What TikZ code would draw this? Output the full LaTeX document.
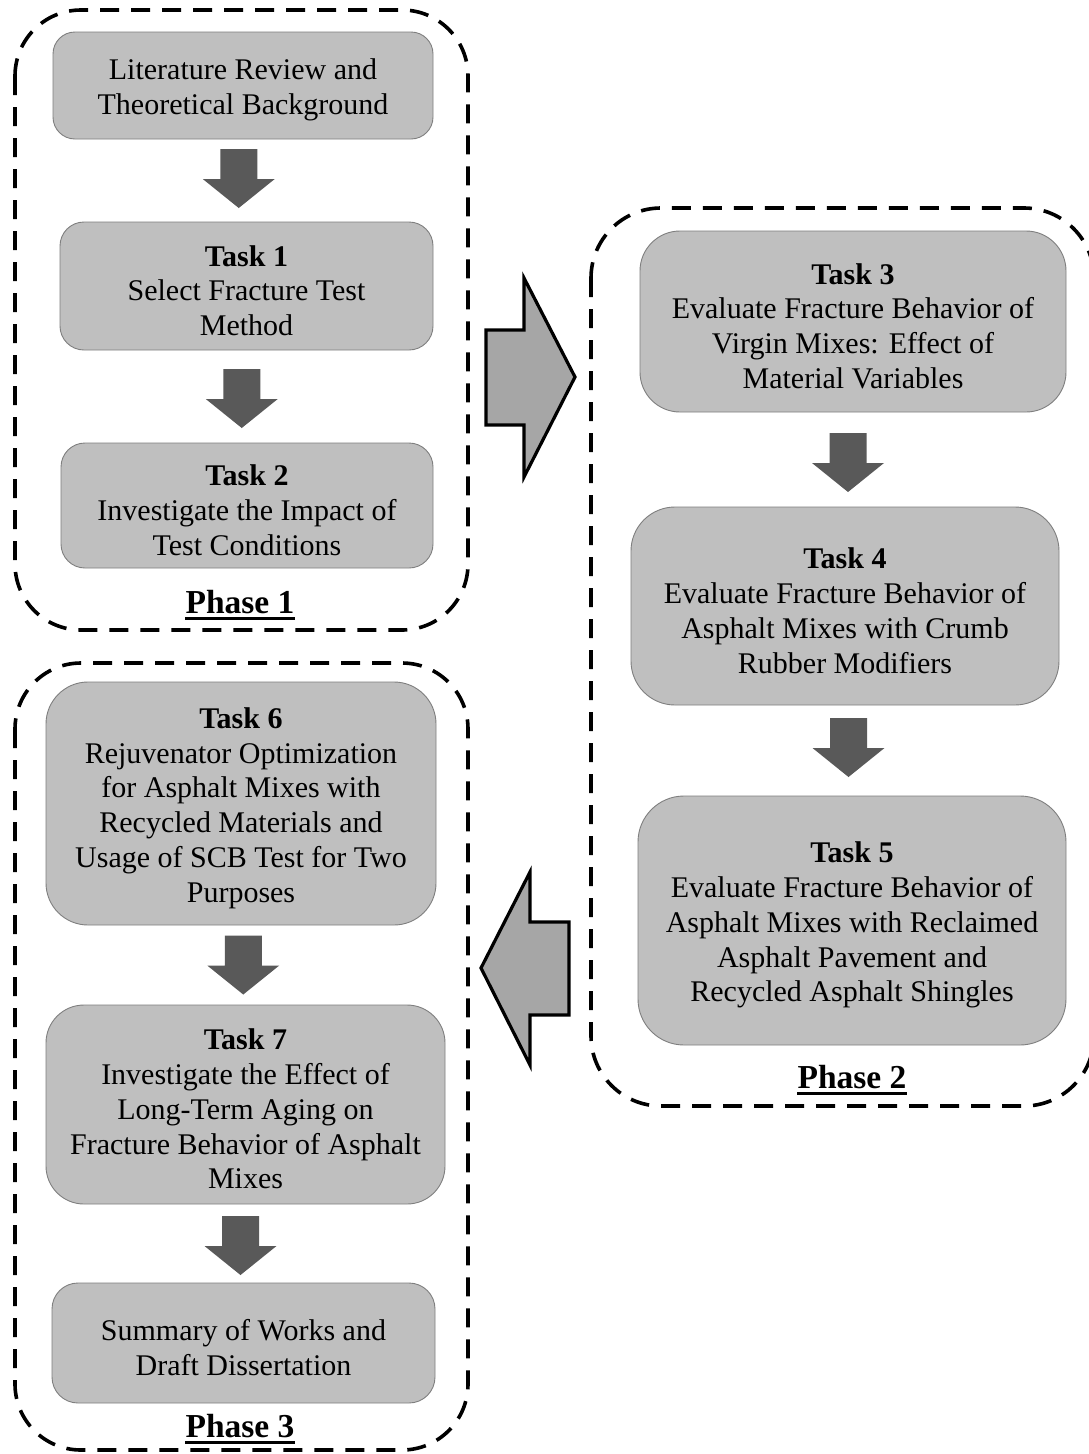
\documentclass[tikz,border=0pt]{standalone}
\usepackage{fontspec}
\setmainfont{Liberation Serif}
\usetikzlibrary{calc}
\definecolor{boxfill}{HTML}{BFBFBF}
\definecolor{boxline}{HTML}{7F7F7F}
\definecolor{darr}{HTML}{595959}
\definecolor{bigarr}{HTML}{A6A6A6}
\newcommand\firststrut{\rule{0pt}{30pt}}
\tikzset{
  taskbox/.style={draw=boxline, line width=0.9pt, fill=boxfill, align=center,
    font=\fontsize{30}{34.8}\selectfont, inner sep=0pt},
  phasebox/.style={draw=black, line width=3.6pt, dash pattern=on 19pt off 12pt},
  phaselbl/.style={font=\fontsize{33.5}{38}\selectfont\bfseries, inner sep=0pt},
  pics/downarr/.style={code={
    \fill[darr] (-18.5,-29.5) -- (18.5,-29.5) -- (18.5,0.5) -- (36,0.5) -- (0,29.5)
      -- (-36,0.5) -- (-18.5,0.5) -- cycle;}},
  bigarrow/.style={fill=bigarr, draw=black, line width=3.2pt, line join=miter}
}
\begin{document}
\begin{tikzpicture}[x=1pt,y=-1pt]
\useasboundingbox (0,0) rectangle (1088,1454);
\fill[white] (0,0) rectangle (1088,1454);

% phase containers
\draw[phasebox, rounded corners=66pt] (15,10) rectangle (468,630);
\draw[phasebox, rounded corners=70pt] (591,208) rectangle (1094,1106);
\draw[phasebox, rounded corners=66pt] (15,663) rectangle (468,1450);

% phase 1
\node[taskbox, rounded corners=22pt, minimum width=380, minimum height=107] (lit) at (243,85.5)
  {\firststrut Literature Review and\\Theoretical Background};
\node[taskbox, rounded corners=24pt, minimum width=373, minimum height=128] (t1) at (246.5,286)
  {\firststrut\textbf{Task 1}\\Select Fracture Test\\Method};
\node[taskbox, rounded corners=24pt, minimum width=372, minimum height=125] (t2) at (247,505.5)
  {\firststrut\textbf{Task 2}\\Investigate the Impact of\\Test Conditions};
\node[phaselbl] (p1) at (240,602) {Phase 1};
\draw[line width=2.6pt] ([yshift=-5pt]p1.base west) -- ([yshift=-5pt]p1.base east);

% phase 2
\node[taskbox, rounded corners=40pt, minimum width=426, minimum height=181] (t3) at (853,321.5)
  {\firststrut\textbf{Task 3}\\Evaluate Fracture Behavior of\\Virgin Mixes: Effect of\\Material Variables};
\node[taskbox, rounded corners=44pt, minimum width=428, minimum height=198] (t4) at (845,606)
  {\firststrut\textbf{Task 4}\\Evaluate Fracture Behavior of\\Asphalt Mixes with Crumb\\Rubber Modifiers};
\node[taskbox, rounded corners=46pt, minimum width=428, minimum height=249] (t5) at (852,920.5)
  {\firststrut\textbf{Task 5}\\Evaluate Fracture Behavior of\\Asphalt Mixes with Reclaimed\\Asphalt Pavement and\\Recycled Asphalt Shingles};
\node[phaselbl] (p2) at (852,1077) {Phase 2};
\draw[line width=2.6pt] ([yshift=-5pt]p2.base west) -- ([yshift=-5pt]p2.base east);

% phase 3
\node[taskbox, rounded corners=42pt, minimum width=390, minimum height=243] (t6) at (241,803.5)
  {\firststrut\textbf{Task 6}\\Rejuvenator Optimization\\for Asphalt Mixes with\\Recycled Materials and\\Usage of SCB Test for Two\\Purposes};
\node[taskbox, rounded corners=38pt, minimum width=399, minimum height=199] (t7) at (245.5,1104.5)
  {\firststrut\textbf{Task 7}\\Investigate the Effect of\\Long-Term Aging on\\Fracture Behavior of Asphalt\\Mixes};
\node[taskbox, rounded corners=26pt, minimum width=383, minimum height=120] (sum) at (243.5,1343)
  {\firststrut Summary of Works and\\Draft Dissertation};
\node[phaselbl] (p3) at (240,1426) {Phase 3};
\draw[line width=2.6pt] ([yshift=-5pt]p3.base west) -- ([yshift=-5pt]p3.base east);

% down arrows between tasks
\pic at ($($(lit.south)!0.5!(t1.north)$)+(-6,-2)$) {downarr};
\pic at ($($(t1.south)!0.5!(t2.north)$)+(-5,2)$) {downarr};
\pic at ($($(t3.south)!0.5!(t4.north)$)+(-1,3)$) {downarr};
\pic at ($($(t4.south)!0.5!(t5.north)$)+(0,-3)$) {downarr};
\pic at ($($(t6.south)!0.5!(t7.north)$)+(0,0)$) {downarr};
\pic at ($($(t7.south)!0.5!(sum.north)$)+(-4,2)$) {downarr};

% big phase arrows
\coordinate (r1) at (575,377);
\coordinate (l1) at (481,968);
\draw[bigarrow] (r1) -- (524,278) -- (524,330) -- (486,330) -- (486,425) -- (524,425) -- (524,477) -- cycle;
\draw[bigarrow] (l1) -- (530,872) -- (530,922) -- (569,922) -- (569,1015) -- (530,1015) -- (530,1065) -- cycle;
\end{tikzpicture}
\end{document}
